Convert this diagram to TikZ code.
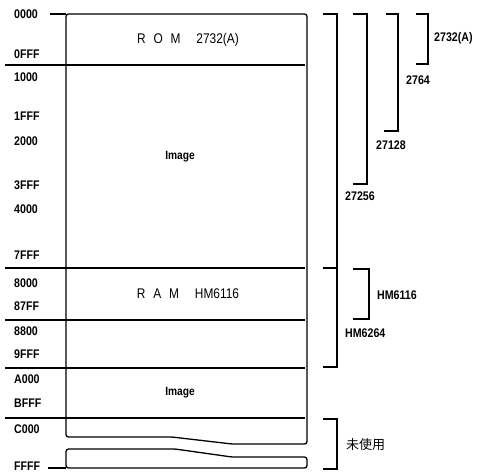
\documentclass[tikz,border=0pt]{standalone}
\usepackage{fontspec}
\setmainfont{Liberation Sans}[FakeStretch=0.85]
\newfontfamily\cjk{Noto Sans CJK JP}
\usetikzlibrary{positioning}
\tikzset{
  frame/.style={line width=1.3pt,line join=round},
  sep/.style={line width=1.1pt},
  brk/.style={line width=1.4pt,line join=miter},
  addr/.style={anchor=west,inner sep=0pt,font=\fontsize{12.5}{12}\selectfont\bfseries},
  chip/.style={anchor=west,inner sep=0pt,font=\fontsize{12.5}{12}\selectfont\bfseries},
  area/.style={inner sep=0pt,font=\fontsize{14}{14}\selectfont},
  img/.style={inner sep=0pt,font=\fontsize{12}{12}\selectfont\bfseries},
}
\begin{document}
\begin{tikzpicture}[x=1pt,y=-1pt]
  \useasboundingbox (0,0) rectangle (487,475);
  % memory block, upper piece and lower piece of the break
  \draw[frame,rounded corners=2.5pt] (66,14) -- (307,14) -- (307,444) -- (232,444)
    -- (172,437) -- (66,437) -- cycle;
  \draw[frame,rounded corners=2.5pt] (66,468) -- (66,449) -- (175,449) -- (232,457)
    -- (307,457) -- (307,468) -- cycle;
  % end ticks and boundaries
  \draw[sep] (50,14) -- (66,14);
  \draw[sep] (48,468) -- (66,468);
  \foreach \y in {65,268,320,368,418}
    \draw[sep] (5,\y) -- (305,\y);

  % addresses
  \node[addr] (a0000) at (14,14) {0000};
  \node[addr] (a0fff) at (14,54) {0FFF};
  \node[addr] (a1000) at (14,77) {1000};
  \node[addr] (a1fff) at (14,116) {1FFF};
  \node[addr] (a2000) at (14,141) {2000};
  \node[addr] (a3fff) at (14,185) {3FFF};
  \node[addr] (a4000) at (14,209) {4000};
  \node[addr] (a7fff) at (14,255) {7FFF};
  \node[addr] (a8000) at (14,283) {8000};
  \node[addr] (a87ff) at (14,306) {87FF};
  \node[addr] (a8800) at (14,331) {8800};
  \node[addr] (a9fff) at (14,354) {9FFF};
  \node[addr] (aa000) at (14,379) {A000};
  \node[addr] (abfff) at (14,403) {BFFF};
  \node[addr] (ac000) at (14,429) {C000};
  \node[addr] (affff) at (14,466) {FFFF};

  % areas
  \node[area] (rom) at (188,40) {R\;\;O\;\;M\hspace{16pt}2732(A)};
  \node[img] (img1) at (180,157) {Image};
  \node[area] (ram) at (188,294) {R\;\;A\;\;M\hspace{16pt}HM6116};
  \node[img] (img2) at (180,393) {Image};

  % brackets
  \draw[brk] (416,14) -- (428,14) -- (428,64) -- (416,64);
  \draw[brk] (386,14) -- (398,14) -- (398,131) -- (384,131);
  \draw[brk] (353,14) -- (367,14) -- (367,184) -- (353,184);
  \draw[brk] (323,14) -- (337,14) -- (337,367) -- (323,367);
  \draw[brk] (323,268) -- (337,268);
  \draw[brk] (353,269) -- (369,269) -- (369,319) -- (353,319);
  \draw[brk] (323,419) -- (337,419) -- (337,469) -- (323,469);

  \node[chip] (c2732) at (434,38) {2732(A)};
  \node[chip] (c2764) at (406,80) {2764};
  \node[chip] (c27128) at (376,145) {27128};
  \node[chip] (c27256) at (345,196) {27256};
  \node[chip] (c6116) at (377,295) {HM6116};
  \node[chip] (c6264) at (345,333) {HM6264};
  \node[chip,font=\cjk\fontsize{13}{13}\selectfont] (free) at (346,445) {未使用};
\end{tikzpicture}
\end{document}
